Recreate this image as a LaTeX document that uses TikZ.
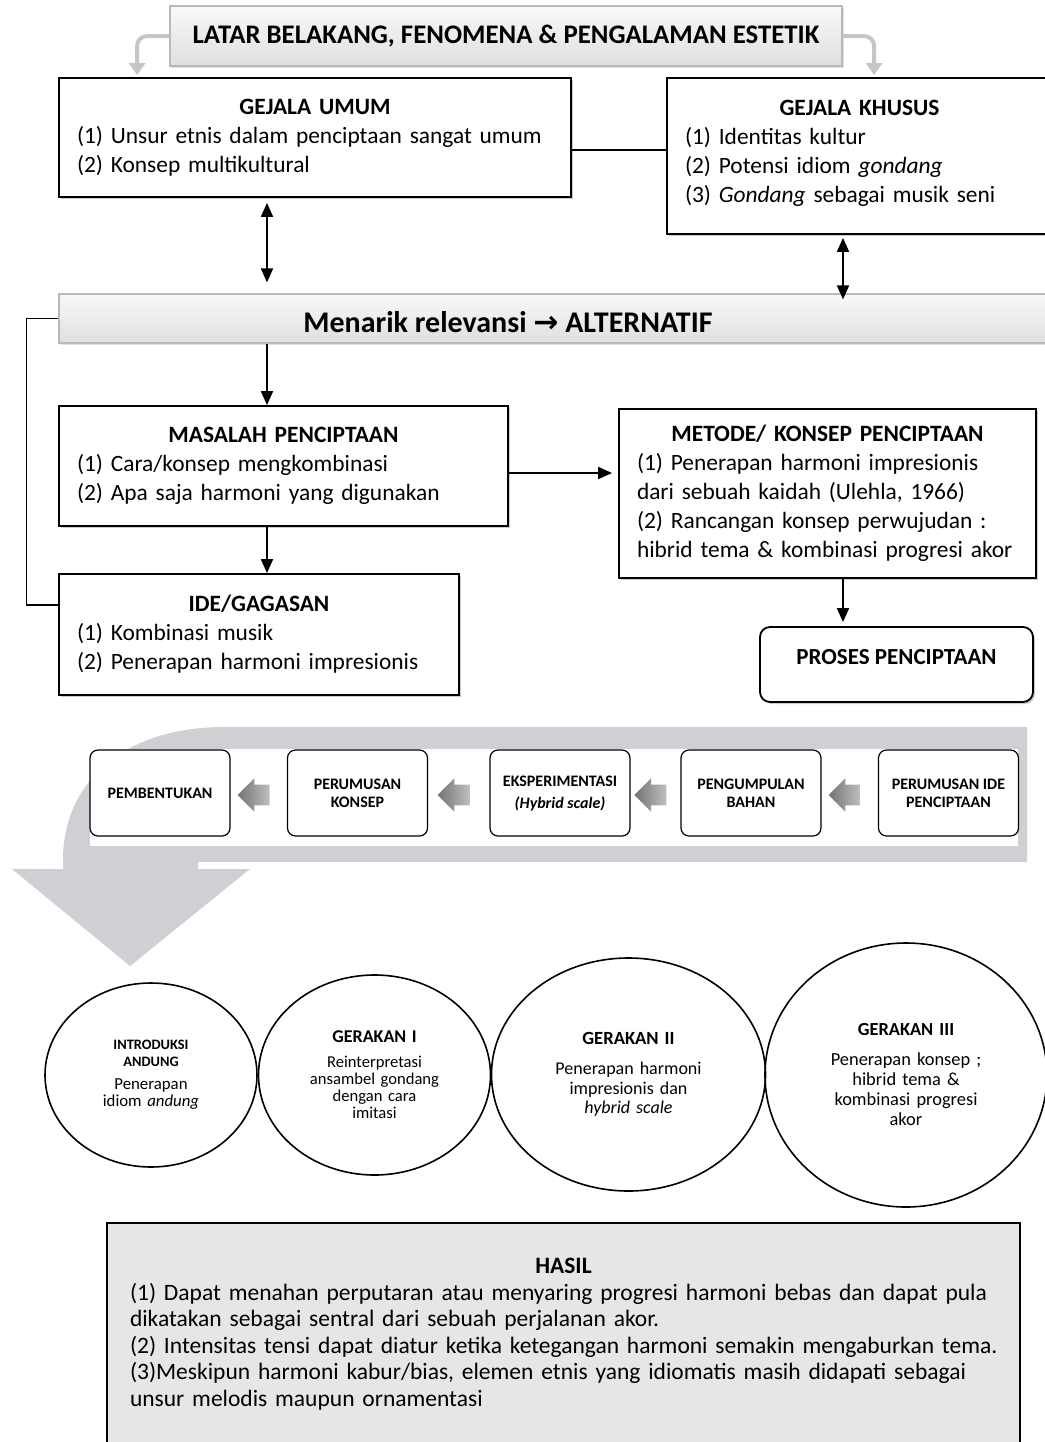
\documentclass[tikz,border=0pt]{standalone}
\usepackage{fontspec}
\setmainfont{Carlito}
\newfontfamily\arrowfont{DejaVu Sans}
\usetikzlibrary{positioning,calc,arrows.meta,shapes.geometric,shapes.arrows,shadows}
\definecolor{bandgray}{RGB}{208,207,211}
\definecolor{hasilgray}{RGB}{230,230,230}

\begin{document}
\begin{tikzpicture}[x=0.5pt,y=-0.5pt,
	kotak/.style={draw,line width=0.9pt,fill=white,inner sep=0pt,align=left,
		font=\fontsize{11.7}{14.5}\selectfont,
		drop shadow={shadow xshift=1pt,shadow yshift=-1pt,opacity=0.4}},
	judul/.style={draw=gray!55,line width=0.6pt,top color=gray!5,bottom color=gray!25,inner sep=0pt,
		drop shadow={shadow xshift=1pt,shadow yshift=-1pt,opacity=0.25}},
	tahap/.style={draw,line width=0.6pt,fill=white,rounded corners=4pt,minimum width=70pt,
		minimum height=43pt,align=center,font=\fontsize{8}{9}\selectfont\bfseries},
	antara/.style={single arrow,shape border rotate=180,minimum height=16pt,text height=5pt,text depth=5pt,
		single arrow head extend=3.25pt,inner sep=0pt,left color=black!55,right color=black!25},
	gerak/.style={ellipse,draw,line width=0.8pt,inner sep=0pt,align=center},
	panah/.style={line width=0.9pt,arrows={-{Triangle[length=7pt,width=6pt]}}},
	duapanah/.style={line width=0.9pt,arrows={{Triangle[length=7pt,width=6pt]}-{Triangle[length=7pt,width=6pt]}}},
	siku/.style={draw=gray!45,line width=2pt,rounded corners=5pt,arrows={-{Triangle[length=6pt,width=8pt]}}}
]
	\useasboundingbox (0,0) rectangle (1045,1442);
	\clip (0,0) rectangle (1045,1442);

	\fill[bandgray] (1027,727) -- (225,727) .. controls (120,727) and (63,785) .. (63,860)
		-- (63,869) -- (12,869) -- (130,966) -- (250,869) -- (198,869) -- (198,862) -- (1027,862) -- cycle;
	\fill[white] (90,749) rectangle (1018,846);

	\node[judul,minimum width=336pt,minimum height=30pt,font=\fontsize{13.4}{15}\selectfont\bfseries] (latar) at (506,36)
		{LATAR BELAKANG, FENOMENA \& PENGALAMAN ESTETIK};

	\node[kotak,minimum width=256pt,minimum height=59.5pt,text width=238pt] (umum) at (315,137.5)
		{{\centering\bfseries GEJALA UMUM\par}(1) Unsur etnis dalam penciptaan sangat umum\\(2) Konsep multikultural};
	\node[kotak,minimum width=192.5pt,minimum height=78pt,text width=174.5pt] (khusus) at (859.5,156)
		{{\centering\bfseries GEJALA KHUSUS\par}(1) Identitas kultur\\(2) Potensi idiom \textit{gondang}\\(3) \textit{Gondang} sebagai musik seni\\[-10pt]\mbox{}};

	\node[judul,minimum width=496.5pt,minimum height=24.5pt] (relevansi) at (555.5,318.5) {};
	\node[font=\fontsize{15}{17}\selectfont\bfseries] (alternatif) at (508,322)
		{Menarik relevansi {\arrowfont\bfseries →} ALTERNATIF};

	\node[kotak,minimum width=224.5pt,minimum height=60pt,text width=206.5pt] (masalah) at (283.5,466)
		{{\centering\bfseries MASALAH PENCIPTAAN\par}(1) Cara/konsep mengkombinasi\\(2) Apa saja harmoni yang digunakan};
	\node[kotak,minimum width=200pt,minimum height=60.5pt,text width=182pt] (ide) at (259,634.5)
		{{\centering\bfseries IDE/GAGASAN\par}(1) Kombinasi musik\\(2) Penerapan harmoni impresionis};
	\node[kotak,minimum width=208.5pt,minimum height=84.5pt,text width=190.5pt] (metode) at (827.5,493.5)
		{{\centering\bfseries METODE/ KONSEP PENCIPTAAN\par}(1) Penerapan harmoni impresionis\\dari sebuah kaidah (Ulehla, 1966)\\(2) Rancangan konsep perwujudan :\\hibrid tema \& kombinasi progresi akor};
	\node[kotak,rounded corners=5pt,minimum width=136.5pt,minimum height=37.5pt,align=center,text depth=7.5pt,
		font=\fontsize{11.5}{13}\selectfont\bfseries] (proses) at (896.5,664.5) {PROSES PENCIPTAAN};

	\node[tahap] (bentuk) at (160,793) {PEMBENTUKAN};
	\node[tahap] (konsep) at (357.5,793) {PERUMUSAN\\KONSEP};
	\node[tahap] (eksperimen) at (560,793) {EKSPERIMENTASI\\[2pt]\textit{(Hybrid scale)}};
	\node[tahap] (bahan) at (751,793) {PENGUMPULAN\\BAHAN};
	\node[tahap] (ideawal) at (948.5,793) {PERUMUSAN IDE\\PENCIPTAAN};
	\node[antara] (a1) at ($(bentuk.east)!0.5!(konsep.west)+(0,2)$) {};
	\node[antara] (a2) at ($(konsep.east)!0.5!(eksperimen.west)+(0,2)$) {};
	\node[antara] (a3) at ($(eksperimen.east)!0.5!(bahan.west)+(0,2)$) {};
	\node[antara] (a4) at ($(bahan.east)!0.5!(ideawal.west)+(0,2)$) {};

	\node[gerak,minimum width=106pt,minimum height=92pt,text width=70pt,font=\fontsize{8.4}{8.5}\selectfont] (intro) at (151,1075)
		{{\fontsize{7.2}{8.5}\selectfont\bfseries INTRODUKSI\\ANDUNG}\\[3pt]Penerapan\\idiom \textit{andung}};
	\node[gerak,minimum width=116pt,minimum height=100pt,text width=78pt,font=\fontsize{8.3}{8.5}\selectfont] (gerak1) at (374.5,1075)
		{{\fontsize{9}{8.5}\selectfont\bfseries GERAKAN I}\\[4pt]Reinterpretasi\\ansambel gondang\\dengan cara\\imitasi};
	\node[gerak,minimum width=137pt,minimum height=116.5pt,text width=90pt,font=\fontsize{9}{9.75}\selectfont] (gerak2) at (628.5,1074.5)
		{{\fontsize{9.3}{9.75}\selectfont\bfseries GERAKAN II}\\[5.5pt]Penerapan harmoni\\impresionis dan\\\textit{hybrid scale}};
	\node[gerak,minimum width=141pt,minimum height=132pt,text width=92pt,font=\fontsize{9.2}{10}\selectfont] (gerak3) at (906,1075)
		{{\bfseries GERAKAN III}\\[5pt]Penerapan konsep ;\\hibrid tema \&\\kombinasi progresi\\akor};

	\node[draw,line width=0.9pt,fill=hasilgray,inner sep=0pt,minimum width=456.5pt,minimum height=111.15pt,
		text width=446.5pt,align=left,font=\fontsize{11.75}{13.3}\selectfont] (hasil) at (563.5,1334.2)
		{\leftskip=6.5pt{\centering\bfseries HASIL\par}(1) Dapat menahan perputaran atau menyaring progresi harmoni bebas dan dapat pula\\
		dikatakan sebagai sentral dari sebuah perjalanan akor.\\
		(2) Intensitas tensi dapat diatur ketika ketegangan harmoni semakin mengaburkan tema.\\
		(3)Meskipun harmoni kabur/bias, elemen etnis yang idiomatis masih didapati sebagai\\
		unsur melodis maupun ornamentasi\par};

	\coordinate (kolkiri) at (267,0);
	\coordinate (kolkanan) at (843,0);
	\coordinate (garisA) at (0,150);
	\coordinate (garisB) at (0,605);
	\coordinate (garisC) at (0,473);

	\draw[siku] (latar.west) -| ($(umum.north west)+(79,-2)$);
	\draw[siku] (latar.east) -| ($(khusus.north west)+(208,-2)$);
	\draw[line width=0.6pt] (umum.east |- garisA) -- (khusus.west |- garisA);
	\draw[duapanah] ([yshift=-2.5pt]umum.south -| kolkiri) -- ([yshift=5.5pt]relevansi.north -| kolkiri);
	\draw[duapanah] ([yshift=-1.5pt]khusus.south -| kolkanan) -- ([yshift=-3pt]relevansi.north -| kolkanan);
	\draw[panah] (relevansi.south -| kolkiri) -- (masalah.north -| kolkiri);
	\draw[panah] (masalah.south -| kolkiri) -- (ide.north -| kolkiri);
	\draw[panah] (masalah.east |- garisC) -- ([xshift=-3pt]metode.west |- garisC);
	\draw[panah] (metode.south -| kolkanan) -- ([yshift=2pt]proses.north -| kolkanan);
	\draw[line width=0.9pt] (relevansi.west) -- ++(-32,0) |- (ide.west |- garisB);
\end{tikzpicture}
\end{document}
